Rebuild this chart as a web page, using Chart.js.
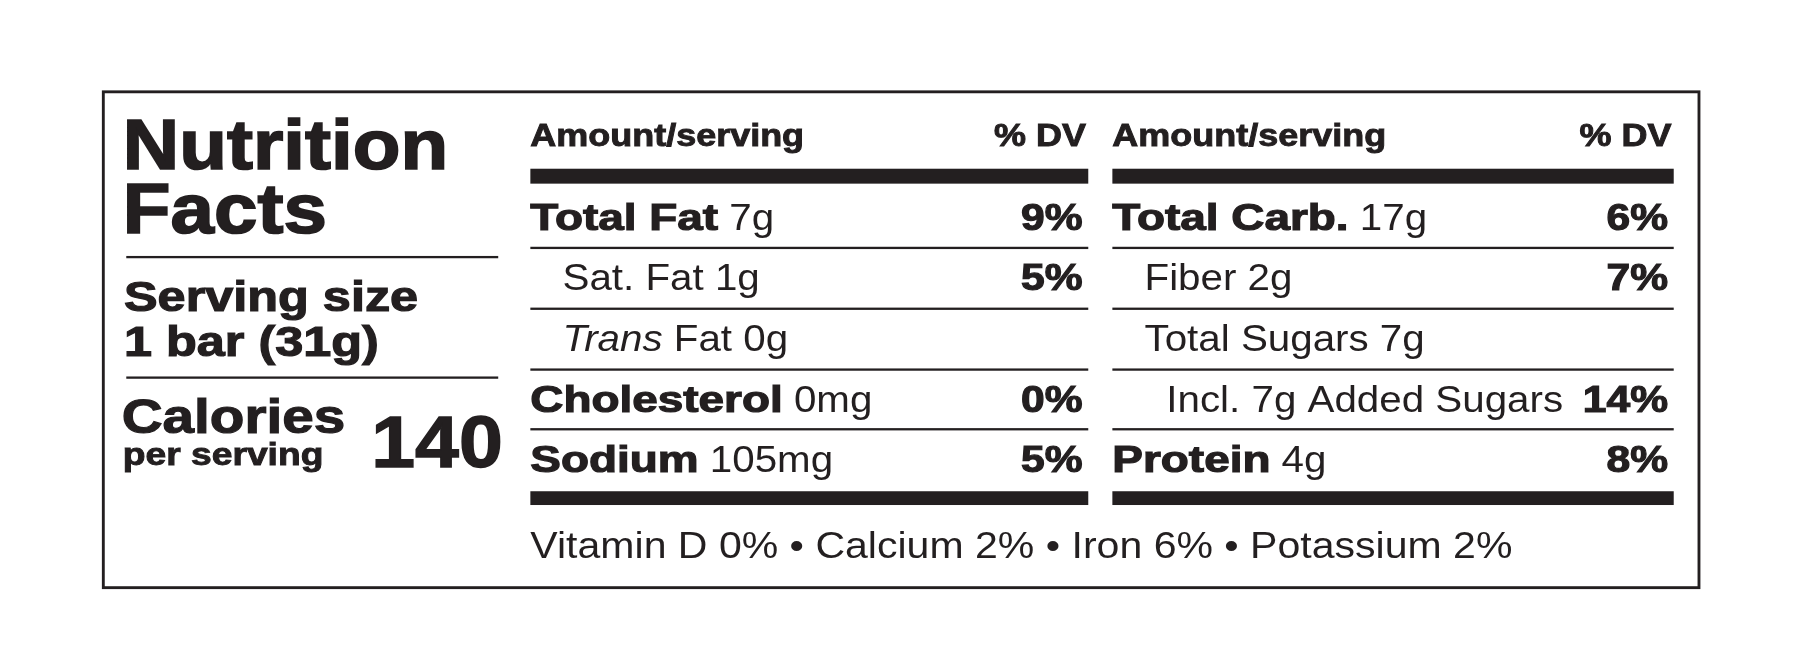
<!DOCTYPE html>
<html>
<head>
<meta charset="utf-8">
<script src="https://cdn.jsdelivr.net/npm/chart.js@4"></script>
<style>
  html, body { margin: 0; padding: 0; background: #fff; }
  #wrap { width: 1800px; height: 668px; }
</style>
</head>
<body>
<div id="wrap"><canvas id="label"></canvas></div>
<script>
// label content
const leftNames   = ['Total Fat', 'Sat. Fat', 'Trans Fat', 'Cholesterol', 'Sodium'];
const leftAmounts = ['7g', '1g', '0g', '0mg', '105mg'];
const leftDV      = ['9%', '5%', '', '0%', '5%'];
const leftBold    = [true, false, false, true, true];
const leftIndent  = [0, 1, 1, 0, 0];

const rightNames   = ['Total Carb.', 'Fiber', 'Total Sugars', 'Incl. 7g Added Sugars', 'Protein'];
const rightAmounts = ['17g', '2g', '7g', '', '4g'];
const rightDV      = ['6%', '7%', '', '14%', '8%'];
const rightBold    = [true, false, false, false, true];
const rightIndent  = [0, 1, 1, 2, 0];

const servingSize = '1 bar (31g)';
const calories = '140';
const footer = 'Vitamin D 0% \u2022 Calcium 2% \u2022 Iron 6% \u2022 Potassium 2%';

const FONT = '"Liberation Sans", Arial, sans-serif';

const labelPlugin = {
    id: 'nutritionLabel',
    afterDraw(chart) {
        const ctx = chart.ctx;
        const sx = chart.scales.x, sy = chart.scales.y;
        const X = v => sx.getPixelForValue(v);
        const Y = v => sy.getPixelForValue(v);
        const k = (X(1568) - X(0)) / 1568;
        const font = (w, s, st) => (st || '') + ' ' + w + ' ' + Math.round(s * k) + 'px ' + FONT;

        ctx.save();
        ctx.fillStyle = '#231f20';
        ctx.strokeStyle = '#231f20';
        ctx.textBaseline = 'alphabetic';

        // outer box
        ctx.lineWidth = 2.5 * k;
        ctx.strokeRect(X(90), Y(80), X(1480) - X(90), Y(512) - Y(80));

        const hline = (x1, x2, y, h) => ctx.fillRect(X(x1), Y(y), X(x2) - X(x1), h * k);
        // text stretched horizontally to match the wide label typeface
        const text = (t, x, y, f, align, stretch, heavy) => {
            ctx.font = f;
            const w = ctx.measureText(t).width * stretch;
            let px = X(x);
            if (align === 'right') px -= w;
            ctx.save();
            ctx.translate(px, Y(y));
            ctx.scale(stretch, 1);
            ctx.textAlign = 'left';
            ctx.fillText(t, 0, 0);
            if (heavy) { ctx.lineWidth = heavy * k; ctx.strokeText(t, 0, 0); }
            ctx.restore();
            return w / k;
        };

        // left panel
        text('Nutrition', 107, 147, font('bold', 62), 'left', 1.1, 1.5);
        text('Facts', 107, 203, font('bold', 62), 'left', 1.1, 1.5);
        hline(110, 434, 223, 2);
        text('Serving size', 108, 271, font('bold', 37), 'left', 1.2, 1);
        text(servingSize, 108, 310, font('bold', 37), 'left', 1.2, 1);
        hline(110, 434, 328, 2);
        text('Calories', 106, 377, font('bold', 42), 'left', 1.18, 1);
        text('per serving', 107, 405, font('bold', 27), 'left', 1.2, 0.8);
        text(calories, 438, 407, font('bold', 64), 'right', 1.08, 1.2);

        const column = (x1, x2, names, amounts, dv, bold, indent) => {
            text('Amount/serving', x1, 127, font('bold', 27), 'left', 1.16, 0.8);
            text('% DV', x2 - 2, 127, font('bold', 27), 'right', 1.16, 0.8);
            hline(x1, x2, 147, 13);
            const base = [200, 253, 306, 359, 411];
            const lines = [215, 268, 321, 373];
            names.forEach((n, i) => {
                let x = x1 + [0, 28, 47][indent[i]];
                if (n === 'Trans Fat') {
                    x += text('Trans', x, base[i], font('normal', 31, 'italic'), 'left', 1.12);
                    x += text(' Fat', x, base[i], font('normal', 31), 'left', 1.12);
                } else if (bold[i]) {
                    x += text(n, x, base[i], font('bold', 32), 'left', 1.24, 1);
                } else {
                    x += text(n, x, base[i], font('normal', 31), 'left', 1.12);
                }
                if (amounts[i]) text(' ' + amounts[i], x, base[i], font('normal', 31), 'left', 1.12);
                if (dv[i]) text(dv[i], x2 - 5, base[i], font('bold', 32), 'right', 1.15, 1);
            });
            lines.forEach(y => hline(x1, x2, y, 2));
            hline(x1, x2, 428, 12);
        };
        column(462, 948, leftNames, leftAmounts, leftDV, leftBold, leftIndent);
        column(969, 1458, rightNames, rightAmounts, rightDV, rightBold, rightIndent);

        text(footer, 462, 486, font('normal', 31), 'left', 1.14);
        ctx.restore();
    }
};

new Chart(document.getElementById('label'), {
    type: 'scatter',
    data: { datasets: [{ data: [], pointRadius: 0 }] },
    options: {
        responsive: true,
        maintainAspectRatio: false,
        animation: false,
        layout: { padding: 0 },
        plugins: { legend: { display: false }, tooltip: { enabled: false } },
        scales: {
            x: { type: 'linear', min: 0, max: 1568, display: false },
            y: { type: 'linear', min: 0, max: 582, reverse: true, display: false }
        }
    },
    plugins: [labelPlugin]
});
</script>
</body>
</html>
